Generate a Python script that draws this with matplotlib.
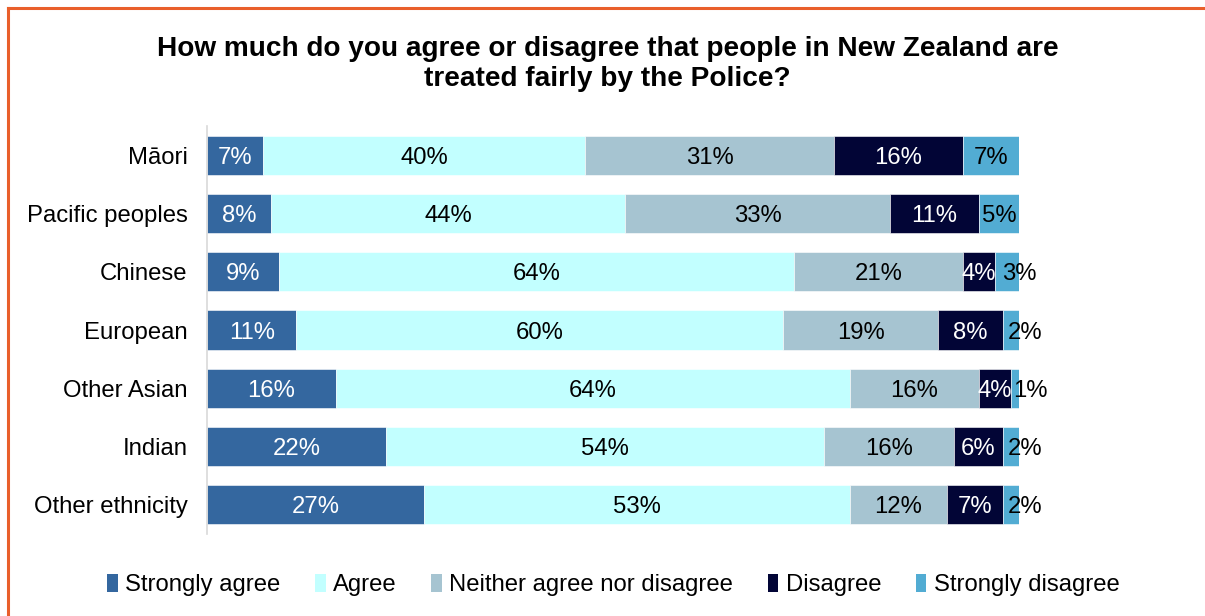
import matplotlib.pyplot as plt
from matplotlib.lines import Line2D
from matplotlib.patches import Patch
import numpy as np

plt.rcParams['font.family'] = ['Liberation Sans', 'DejaVu Sans']

# data
groups = ['Māori', 'Pacific peoples', 'Chinese', 'European',
          'Other Asian', 'Indian', 'Other ethnicity']
strongly_agree = [7, 8, 9, 11, 16, 22, 27]
agree = [40, 44, 64, 60, 64, 54, 53]
neither = [31, 33, 21, 19, 16, 16, 12]
disagree = [16, 11, 4, 8, 4, 6, 7]
strongly_disagree = [7, 5, 3, 2, 1, 2, 2]

series = ['Strongly agree', 'Agree', 'Neither agree nor disagree',
          'Disagree', 'Strongly disagree']
colors = ['#34679F', '#C2FFFF', '#A6C4D1', '#020536', '#52ACD3']
text_colors = ['white', 'black', 'black', 'white', 'black']

FS = 17.2


def main():
    vals = np.array([strongly_agree, agree, neither, disagree,
                     strongly_disagree], dtype=float)
    shares = vals / vals.sum(axis=0) * 100  # bars all end at 100%

    fig = plt.figure(figsize=(12.05, 6.16), dpi=100)
    ax = fig.add_axes([0.1718, 0.133, 0.8456 - 0.1718, 0.7955 - 0.133])

    y = np.arange(len(groups))
    left = np.zeros(len(groups))
    for i, name in enumerate(series):
        ax.barh(y, shares[i], left=left, height=0.67, color=colors[i],
                label=name, edgecolor='white', linewidth=0.4)
        for j in range(len(groups)):
            w = shares[i][j]
            txt = '%d%%' % vals[i][j]
            if i == 4 and vals[i][j] <= 3:
                ax.text(left[j] + w * 0.3, y[j], txt, ha='left',
                        va='center_baseline', fontsize=FS, color='black')
            else:
                ax.text(left[j] + w / 2, y[j], txt, ha='center',
                        va='center_baseline', fontsize=FS, color=text_colors[i])
        left += shares[i]

    ax.set_xlim(0, 100)
    ax.set_ylim(len(groups) - 0.5, -0.5)
    ax.set_yticks(y)
    ax.set_yticklabels(groups, fontsize=FS)
    ax.tick_params(axis='y', length=0, pad=14)
    ax.set_xticks([])
    for s in ['top', 'right', 'bottom']:
        ax.spines[s].set_visible(False)
    ax.spines['left'].set_color('#D9D9D9')
    ax.spines['left'].set_linewidth(1.2)

    fig.text(0.504, 0.896, 'How much do you agree or disagree that people in New Zealand are\n'
             'treated fairly by the Police?', ha='center', va='center',
             fontsize=20.2, fontweight='bold', linespacing=1.2)

    handles = [Patch(facecolor=c, edgecolor='none') for c in colors]
    fig.legend(handles, series, loc='center', bbox_to_anchor=(0.509, 0.05),
               ncol=5, frameon=False, fontsize=FS, handlelength=0.45,
               handleheight=0.75, handletextpad=0.3, columnspacing=1.45)

    # orange frame on left and top
    orange = '#E95F2B'
    fig.add_artist(Line2D([0.0065, 0.0065], [0, 0.987], transform=fig.transFigure,
                          color=orange, linewidth=2.2))
    fig.add_artist(Line2D([0.0065, 1], [0.987, 0.987], transform=fig.transFigure,
                          color=orange, linewidth=2.2))

    fig.savefig('out.png', dpi=100)


if __name__ == '__main__':
    main()
